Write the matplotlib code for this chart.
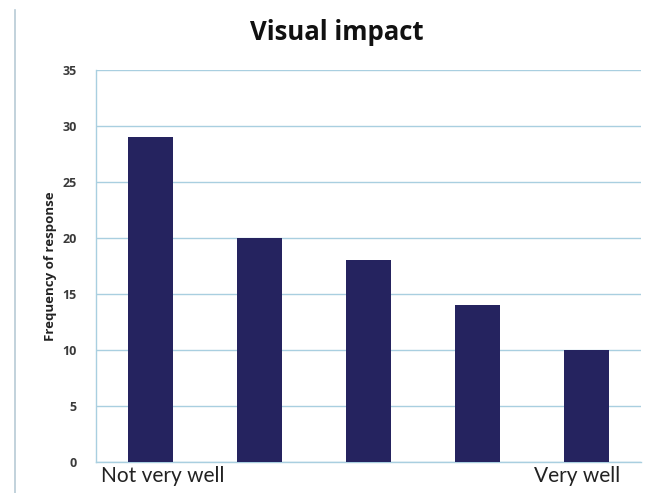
import matplotlib
matplotlib.use('Agg')
import matplotlib.pyplot as plt
from matplotlib.lines import Line2D
from matplotlib.transforms import ScaledTranslation

categories = ['Not very well', '', '', '', 'Very well']
frequencies = [29, 20, 18, 14, 10]
y_ticks = [0, 5, 10, 15, 20, 25, 30, 35]

bar_color = '#25235f'
grid_color = '#a9cfe0'

fig = plt.figure(figsize=(6.72, 4.93), dpi=100)
ax = fig.add_axes([0.1429, 0.0629, 0.811, 0.795])

positions = range(len(frequencies))
ax.bar(positions, frequencies, width=0.41, color=bar_color, zorder=3)

ax.set_xlim(-0.5, len(frequencies) - 0.5)
ax.set_ylim(0, 35)
ax.set_yticks(y_ticks)
ax.set_yticklabels([str(t) for t in y_ticks], fontsize=9, fontweight='bold',
                   color='#3a3a3a', family='Open Sans')
ax.set_xticks(list(positions))
ax.set_xticklabels(categories, fontsize=15, color='#222222', family='Lato')
ax.tick_params(axis='both', length=0)
ax.tick_params(axis='y', pad=14)
ax.tick_params(axis='x', pad=3)

# nudge the end labels a little towards the middle
labels = ax.get_xticklabels()
labels[0].set_transform(labels[0].get_transform() + ScaledTranslation(0.12, 0, fig.dpi_scale_trans))
labels[-1].set_transform(labels[-1].get_transform() + ScaledTranslation(-0.09, 0, fig.dpi_scale_trans))

ax.grid(axis='y', color=grid_color, linewidth=1, zorder=0)
for side in ['top', 'right']:
    ax.spines[side].set_visible(False)
for side in ['left', 'bottom']:
    ax.spines[side].set_color(grid_color)
    ax.spines[side].set_linewidth(1)

ax.set_ylabel('Frequency of response', fontsize=9.5, fontweight='bold',
              family='Open Sans', color='#222222', labelpad=4)
fig.text(337 / 672, 0.935, 'Visual impact', fontsize=18.5, fontweight='bold',
         family='Open Sans', color='#111111', ha='center', va='center')

# outer frame edge on the left
fig.add_artist(Line2D([0.023, 0.023], [0, 0.98], transform=fig.transFigure,
                      color='#b7cbd6', linewidth=1.2))

fig.savefig('out.png', dpi=100)
